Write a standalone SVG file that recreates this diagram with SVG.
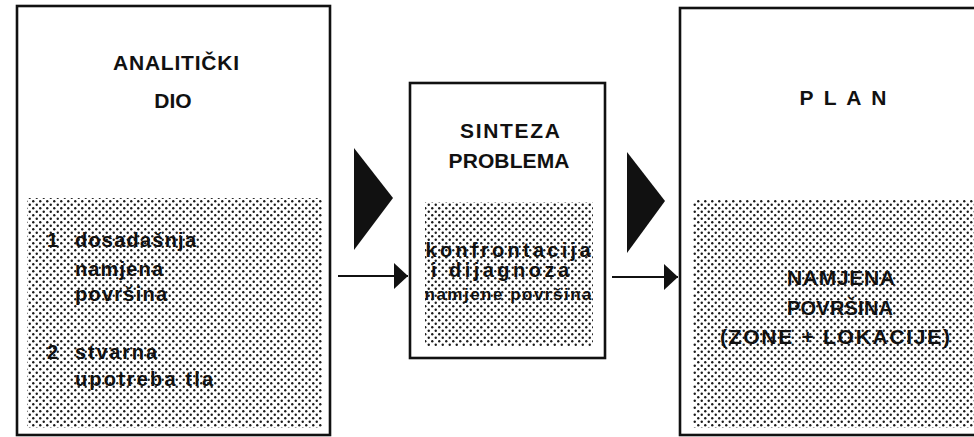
<svg xmlns="http://www.w3.org/2000/svg" width="974" height="437" viewBox="0 0 974 437">
<style>
.box{fill:#fff;stroke:#111;stroke-width:2.6}
.dots{fill:url(#stipple)}
.h{font-family:"Liberation Sans",Arial,sans-serif;font-weight:bold;fill:#111;text-anchor:middle}
.t{font-family:"Liberation Sans",Arial,sans-serif;font-weight:bold;fill:#111}
.conn{stroke:#111;stroke-width:2.2;fill:none}
.tri{fill:#111}
</style>
<defs>
<pattern id="stipple" patternUnits="userSpaceOnUse" width="7" height="7">
<circle cx="1.75" cy="1.75" r="1.2" fill="#1a1a1a"/>
<circle cx="5.25" cy="5.25" r="1.2" fill="#1a1a1a"/>
</pattern>
<marker id="head" markerUnits="userSpaceOnUse" viewBox="0 0 14 26" markerWidth="14" markerHeight="26" refX="14" refY="13" orient="auto">
<path d="M0,0 L14,13 L0,26 z" fill="#111"/>
</marker>
</defs>
<rect width="974" height="437" fill="#fff"/>
<g id="node-analiticki">
<rect class="box" x="17" y="6" width="313" height="429"/>
<rect class="dots" x="27" y="198" width="295" height="230"/>
<text class="h" x="176" y="70" font-size="21" textLength="126" lengthAdjust="spacing">ANALITIČKI</text>
<text class="h" x="173" y="108" font-size="21">DIO</text>
<text class="t" x="47" y="247" font-size="20">1</text>
<text class="t" x="75" y="247" font-size="20" textLength="121" lengthAdjust="spacing">dosadašnja</text>
<text class="t" x="75" y="276" font-size="20" textLength="88" lengthAdjust="spacing">namjena</text>
<text class="t" x="75" y="301" font-size="20" textLength="92" lengthAdjust="spacing">površina</text>
<text class="t" x="47" y="359" font-size="20">2</text>
<text class="t" x="75" y="359" font-size="20" textLength="82" lengthAdjust="spacing">stvarna</text>
<text class="t" x="75" y="386" font-size="20" textLength="138" lengthAdjust="spacing">upotreba tla</text>
</g>
<g id="node-sinteza">
<rect class="box" x="410" y="83" width="195" height="275"/>
<rect class="dots" x="425" y="202" width="168" height="145"/>
<text class="h" x="510" y="138" font-size="21" textLength="100" lengthAdjust="spacing">SINTEZA</text>
<text class="h" x="509" y="168" font-size="21" textLength="121" lengthAdjust="spacing">PROBLEMA</text>
<text class="h" x="508" y="257" font-size="20" textLength="165" lengthAdjust="spacing">konfrontacija</text>
<text class="h" x="500" y="277" font-size="20" textLength="138" lengthAdjust="spacing">i dijagnoza</text>
<text class="h" x="508" y="300" font-size="17" textLength="167" lengthAdjust="spacing">namjene površina</text>
</g>
<g id="node-plan">
<rect class="box" x="680" y="8" width="300" height="427"/>
<rect class="dots" x="693" y="200" width="281" height="228"/>
<text class="h" x="843" y="105" font-size="21" textLength="87" lengthAdjust="spacing">P L A N</text>
<text class="h" x="841" y="285" font-size="21" textLength="108" lengthAdjust="spacing">NAMJENA</text>
<text class="h" x="840" y="315" font-size="20" textLength="106" lengthAdjust="spacing">POVRŠINA</text>
<text class="h" x="835" y="344" font-size="21" textLength="230" lengthAdjust="spacing">(ZONE + LOKACIJE)</text>
</g>
<g id="connectors">
<polygon class="tri" points="354,148 393,198 354,250"/>
<polygon class="tri" points="627,152 665,201 627,253"/>
<line class="conn" x1="338" y1="276" x2="408" y2="276" marker-end="url(#head)"/>
<line class="conn" x1="612" y1="277" x2="678" y2="277" marker-end="url(#head)"/>
</g>
</svg>
